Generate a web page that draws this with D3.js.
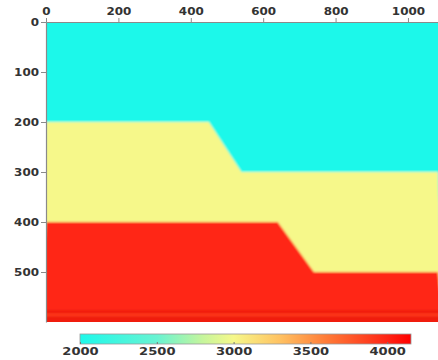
<!DOCTYPE html>
<html>
<head>
<meta charset="utf-8">
<script src="https://cdn.jsdelivr.net/npm/d3@7"></script>
<style>
  html, body { margin: 0; padding: 0; background: #fff; }
  svg { display: block; }
  text { font-family: "DejaVu Sans", sans-serif; fill: #333; }
</style>
</head>
<body>
<svg id="chart" width="438" height="360"></svg>
<script>
// ---- data ----
const xTicks = [0, 200, 400, 600, 800, 1000];
const yTicks = [0, 100, 200, 300, 400, 500];
const colorbarTicks = [2000, 2500, 3000, 3500, 4000];
const layerVelocity = [2000, 3000, 4000];          // top, middle, bottom layer
const boundary1X = [0, 450, 540, 1083];            // top of middle layer
const boundary1Z = [200, 200, 300, 300];
const boundary2X = [0, 640, 740, 1083];            // top of bottom layer
const boundary2Z = [400, 400, 500, 500];
const colorStops = [2000, 2500, 2800, 3000, 3300, 3600, 4000, 4155];
const colorStopColors = ["#1ef8ea", "#68f3d2", "#c6f59c", "#f6f88a", "#ffc262", "#ff7c38", "#ff2515", "#ff0000"];

// ---- layout ----
const svg = d3.select("#chart");
const plot = {left: 46, top: 22, right: 438, bottom: 322};
const xMax = 1083, zMax = 600;
const x = d3.scaleLinear().domain([0, xMax]).range([plot.left, plot.right]);
const y = d3.scaleLinear().domain([0, zMax]).range([plot.top, plot.bottom]);
const color = d3.scaleLinear().domain(colorStops).range(colorStopColors).interpolate(d3.interpolateRgb);

const defs = svg.append("defs");
defs.append("clipPath").attr("id", "plotclip")
  .append("rect").attr("x", plot.left).attr("y", plot.top)
  .attr("width", plot.right - plot.left).attr("height", plot.bottom - plot.top);
defs.append("filter").attr("id", "soft").attr("x", "-5%").attr("y", "-5%").attr("width", "110%").attr("height", "110%")
  .append("feGaussianBlur").attr("stdDeviation", 0.9);

const g = svg.append("g").attr("clip-path", "url(#plotclip)");
const inner = g.append("g").attr("filter", "url(#soft)");

// layer polygons
function layerPath(topX, topZ) {
  const pts = topX.map((d, i) => [x(d), y(topZ[i])]);
  pts.push([x(xMax) + 5, y(zMax) + 5], [x(0) - 5, y(zMax) + 5]);
  return d3.line()(pts) + "Z";
}
inner.append("rect").attr("x", x(0) - 5).attr("y", y(0) - 5)
  .attr("width", x(xMax) - x(0) + 10).attr("height", y(zMax) - y(0) + 10)
  .attr("fill", color(layerVelocity[0]));
inner.append("path").attr("d", layerPath(boundary1X, boundary1Z)).attr("fill", color(layerVelocity[1]));
inner.append("path").attr("d", layerPath(boundary2X, boundary2Z)).attr("fill", color(layerVelocity[2]));

// darker band near base of model
inner.append("rect").attr("x", x(0) - 5).attr("y", y(576))
  .attr("width", x(xMax) - x(0) + 10).attr("height", y(zMax) - y(576) + 5)
  .attr("fill", "#f01e10");
inner.append("rect").attr("x", x(0) - 5).attr("y", y(583))
  .attr("width", x(xMax) - x(0) + 10).attr("height", y(588) - y(583))
  .attr("fill", "#ff3a1c");

// ---- axes ----
function stretch(sel, perChar) {
  sel.each(function() {
    const t = d3.select(this);
    const s = t.text();
    t.attr("textLength", s.length * perChar).attr("lengthAdjust", "spacingAndGlyphs");
  });
}

const xAxis = svg.append("g").attr("transform", `translate(0,${plot.top})`)
  .call(d3.axisTop(x).tickValues(xTicks).tickSize(4).tickSizeOuter(0).tickPadding(2).tickFormat(d3.format("d")));
const yAxis = svg.append("g").attr("transform", `translate(${plot.left},0)`)
  .call(d3.axisLeft(y).tickValues(yTicks).tickSize(5).tickSizeOuter(0).tickPadding(2).tickFormat(d3.format("d")));
[xAxis, yAxis].forEach(a => {
  a.select(".domain").attr("stroke", "#8a8a8a").attr("stroke-width", 1.2);
  a.selectAll(".tick line").attr("stroke", "#8a8a8a");
  a.selectAll(".tick text").attr("font-size", 10.5).attr("fill", "#444").attr("font-weight", "bold")
    .attr("font-family", "DejaVu Sans, sans-serif").call(stretch, 8.3);
});
xAxis.selectAll(".tick text").attr("dy", "-0.05em");
yAxis.selectAll(".tick text").attr("dy", "0.36em");

// ---- colorbar ----
const cbLeft = 80, cbRight = 411, cbTop = 334, cbH = 10;
const cbMin = colorStops[0], cbMax = colorStops[colorStops.length - 1];
const cx = d3.scaleLinear().domain([cbMin, cbMax]).range([cbLeft, cbRight]);
const grad = defs.append("linearGradient").attr("id", "cbgrad")
  .attr("x1", "0%").attr("x2", "100%").attr("y1", "0%").attr("y2", "0%");
colorStops.forEach((v, i) => {
  grad.append("stop").attr("offset", ((v - cbMin) / (cbMax - cbMin) * 100) + "%")
    .attr("stop-color", colorStopColors[i]);
});
svg.append("rect").attr("x", cbLeft).attr("y", cbTop).attr("width", cbRight - cbLeft).attr("height", cbH)
  .attr("fill", "url(#cbgrad)").attr("stroke", "#9a9a9a").attr("stroke-width", 0.8);
const cbAxis = svg.append("g").attr("transform", `translate(0,${cbTop + cbH})`)
  .call(d3.axisBottom(cx).tickValues(colorbarTicks).tickSize(-2).tickSizeOuter(0).tickPadding(5).tickFormat(d3.format("d")));
cbAxis.select(".domain").remove();
cbAxis.selectAll(".tick line").attr("stroke", "#777");
cbAxis.selectAll(".tick text").attr("font-size", 10.5).attr("fill", "#444").attr("font-weight", "bold")
  .attr("font-family", "DejaVu Sans, sans-serif").attr("dy", "0.6em").call(stretch, 9.1);
</script>
</body>
</html>
